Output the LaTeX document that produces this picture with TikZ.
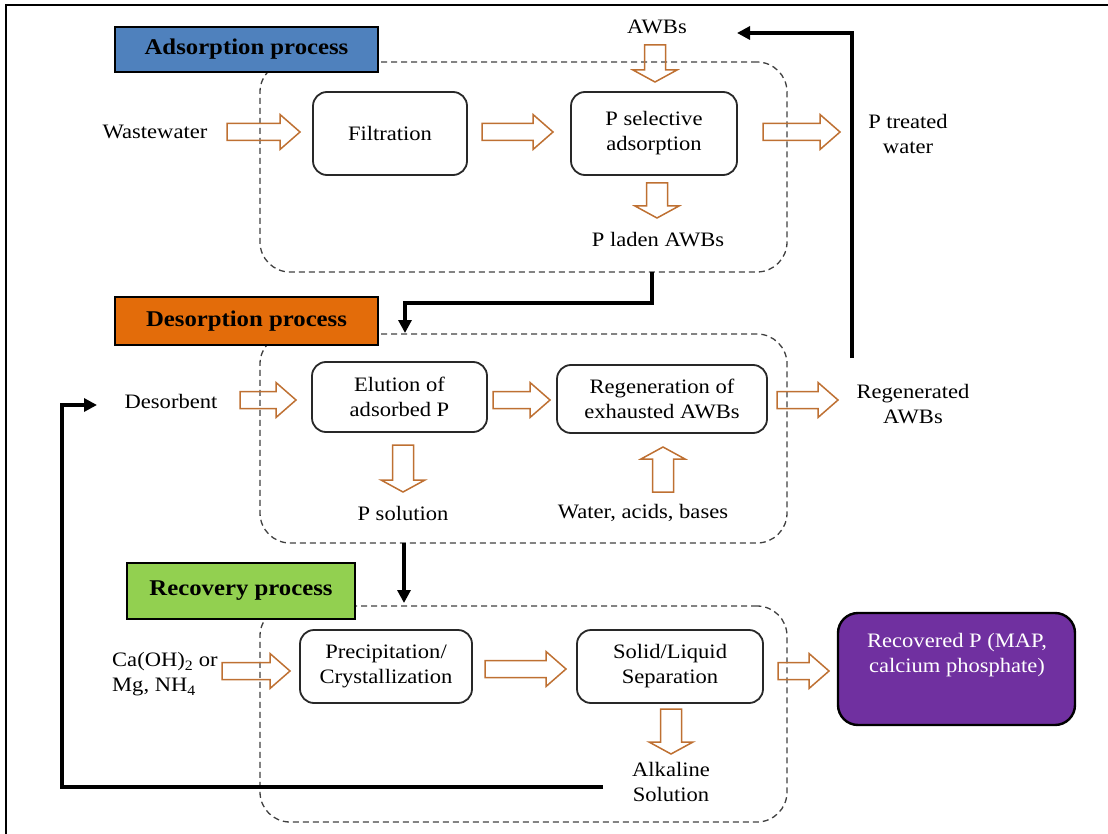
\documentclass[tikz,border=0pt]{standalone}
\usepackage{fontspec}
\setmainfont{Liberation Serif}[FakeStretch=1.1]
\usetikzlibrary{calc,arrows.meta}

\definecolor{arrowbrown}{RGB}{190,112,50}
\definecolor{adsblue}{RGB}{79,129,189}
\definecolor{desorange}{RGB}{227,108,10}
\definecolor{recgreen}{RGB}{146,208,80}
\definecolor{recpurple}{RGB}{112,48,160}
\definecolor{boxgray}{RGB}{40,40,40}

% outlined block arrow: #1 shaft half-width, #2 head half-width, #3 head length, #4 tail, #5 tip
\newcommand\blockarrow[5]{%
  \coordinate (bh) at ($(#5)!#3!(#4)$);
  \draw[hollow] ($(#4)!#1!90:(#5)$) -- ($(bh)!#1!90:(#5)$) -- ($(bh)!#2!90:(#5)$)
    -- (#5) -- ($(bh)!#2!-90:(#5)$) -- ($(bh)!#1!-90:(#5)$) -- ($(#4)!#1!-90:(#5)$) -- cycle;}
\newcommand\hblock[2]{\blockarrow{8.5pt}{17.5pt}{20pt}{#1}{#2}}
\newcommand\vblock[2]{\blockarrow{10.5pt}{22pt}{12pt}{#1}{#2}}

\tikzset{
  hollow/.style={draw=arrowbrown, line width=1.5pt, line join=miter},
  fb/.style={line width=3.2pt, -{Triangle[length=13pt,width=13pt]}},
  container/.style={draw=black!75, dash pattern=on 6pt off 4pt, line width=1.3pt,
    rounded corners=30pt},
  procbox/.style={draw=boxgray, line width=1.8pt, rounded corners=14pt, fill=white,
    font=\fontsize{20.5}{25}\selectfont, align=center, inner sep=0pt},
  header/.style={draw=black, line width=1.4pt, inner sep=0pt,
    font=\fontsize{22.5}{26}\selectfont\bfseries},
  lbl/.style={font=\fontsize{20.5}{25}\selectfont, align=center, inner sep=0pt},
}

\begin{document}
\begin{tikzpicture}[x=1pt,y=-1pt]
\useasboundingbox (0,0) rectangle (1108,834);

% page frame
\draw[line width=2pt] (6,834) -- (6,5) -- (1108,5);

% dashed process containers
\node[container, minimum width=527pt, minimum height=210pt] (cads) at (523.5,167) {};
\node[container, minimum width=527pt, minimum height=209pt] (cdes) at (523.5,438.5) {};
\node[container, minimum width=527pt, minimum height=216pt] (crec) at (523.5,714) {};

% section headers
\node[header, fill=adsblue, minimum width=263pt, minimum height=45pt] (hads) at (246.5,49.5) {Adsorption process};
\node[header, fill=desorange, minimum width=263pt, minimum height=48pt] (hdes) at (246.5,321) {Desorption process};
\node[header, fill=recgreen, minimum width=228pt, minimum height=56pt] (hrec) at (241,591) {Recovery process};

% adsorption stage
\node[procbox, minimum width=154pt, minimum height=83pt] (filt) at (390,133.5) {Filtration};
\node[procbox, minimum width=166pt, minimum height=83pt] (psel) at (654,133.5) {P selective\\adsorption};
\node[lbl] (ww) at (155,132) {Wastewater};
\node[lbl] (awb) at (657,27) {AWBs};
\node[lbl] (plad) at (658,240) {P laden AWBs};
\node[lbl] (ptw) at (908,134) {P treated\\water};

% desorption stage
\node[procbox, minimum width=175pt, minimum height=70pt] (elut) at (399.5,397) {Elution of\\adsorbed P};
\node[procbox, minimum width=210pt, minimum height=68pt] (regen) at (662,399) {Regeneration of\\exhausted AWBs};
\node[lbl] (desorb) at (171,401) {Desorbent};
\node[lbl] (psol) at (403,513) {P solution};
\node[lbl] (wab) at (643,513) {Water, acids, bases};
\node[lbl] (rawb) at (913,404) {Regenerated\\AWBs};

% recovery stage
\node[procbox, minimum width=172pt, minimum height=73pt] (precip) at (386,666.5) {Precipitation/\\Crystallization};
\node[procbox, minimum width=186pt, minimum height=73pt] (solid) at (670,666.5) {Solid/Liquid\\Separation};
\node[draw=black, line width=2.4pt, rounded corners=20pt, fill=recpurple,
  minimum width=237pt, minimum height=112pt] (recov) at (956.5,669) {};
\node[lbl, text=white] (recovtxt) at (957,655) {Recovered P (MAP,\\calcium phosphate)};
\node[lbl, align=left, anchor=west] (reag) at (112,674.5) {Ca(OH)\textsubscript{2} or\\Mg, NH\textsubscript{4}};
\node[lbl] (alk) at (671,782) {Alkaline\\Solution};

% block-arrow end points
\coordinate (ww-a) at (227,132);   \coordinate (ww-b) at (300,132);
\coordinate (fp-a) at (482,132);   \coordinate (fp-b) at (553,132);
\coordinate (pt-a) at (763,132);   \coordinate (pt-b) at (840,132);
\coordinate (aw-a) at (655,45);    \coordinate (aw-b) at (655,82);
\coordinate (pl-a) at (657,183);   \coordinate (pl-b) at (657,218);
\coordinate (de-a) at (240,400);   \coordinate (de-b) at (296,400);
\coordinate (er-a) at (493,400);   \coordinate (er-b) at (550,400);
\coordinate (ra-a) at (777,400);   \coordinate (ra-b) at (838,400);
\coordinate (ps-a) at (403,445);   \coordinate (ps-b) at (403,492);
\coordinate (wa-a) at (663,492);   \coordinate (wa-b) at (663,447);
\coordinate (ca-a) at (222,671);   \coordinate (ca-b) at (290,671);
\coordinate (sl-a) at (485,669);   \coordinate (sl-b) at (566,669);
\coordinate (rp-a) at (778,671);   \coordinate (rp-b) at (829,671);
\coordinate (al-a) at (671,709);   \coordinate (al-b) at (671,754);

\hblock{ww-a}{ww-b}
\hblock{fp-a}{fp-b}
\hblock{pt-a}{pt-b}
\vblock{aw-a}{aw-b}
\vblock{pl-a}{pl-b}
\hblock{de-a}{de-b}
\hblock{er-a}{er-b}
\hblock{ra-a}{ra-b}
\vblock{ps-a}{ps-b}
\vblock{wa-a}{wa-b}
\hblock{ca-a}{ca-b}
\hblock{sl-a}{sl-b}
\hblock{rp-a}{rp-b}
\vblock{al-a}{al-b}

% flow between stages and recycling loops
\coordinate (a2d-s) at (652,272);  \coordinate (a2d-e) at (405,333);
\coordinate (d2r-s) at (404,543);  \coordinate (d2r-e) at (404,603);
\coordinate (rg-s) at (852,358);   \coordinate (rg-e) at (737,33);
\coordinate (al-s) at (603,787);   \coordinate (al-e) at (97,405);

\draw[fb] (a2d-s) -- ++(0,31) -| (a2d-e);
\draw[fb] (d2r-s) -- (d2r-e);
\draw[fb] (rg-s) |- (rg-e);
\draw[fb] (al-s) -| ($(al-e)+(-35,0)$) -- (al-e);
\end{tikzpicture}
\end{document}
